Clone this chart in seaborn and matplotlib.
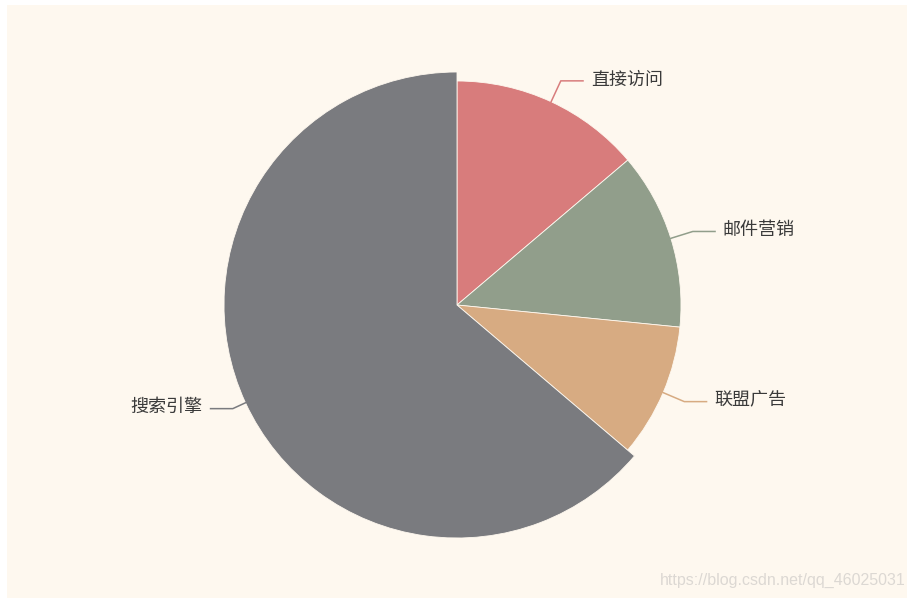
import numpy as np
import matplotlib
matplotlib.use("Agg")
import matplotlib.pyplot as plt
from matplotlib.patches import Rectangle
import seaborn as sns

categories = ["直接访问", "邮件营销", "联盟广告", "搜索引擎"]
values = [335, 310, 234, 1548]
colors = ["#d87c7c", "#919e8b", "#d7ab82", "#7a7b7f"]
watermark = "https://blog.csdn.net/qq_46025031"

sns.set_theme(style="white")
plt.rcParams['font.family'] = ['Noto Sans CJK SC', 'DejaVu Sans']

W, H = 915, 598
fig = plt.figure(figsize=(W / 100, H / 100), dpi=100, facecolor="white")
ax = fig.add_axes([0, 0, 1, 1])

cx, cy = 457, H - 305
R = 224
R_emph = 233
pal = sns.color_palette(colors)
wedges, _ = ax.pie(values, colors=pal, startangle=90, counterclock=False,
                   center=(cx, cy), radius=R, frame=True,
                   wedgeprops=dict(linewidth=0.6, edgecolor="#fef8ef"))
wedges[3].set_radius(R_emph)
ax.set_xlim(0, W)
ax.set_ylim(0, H)
ax.set_aspect("equal")
ax.axis("off")

# cream panel
ax.add_patch(Rectangle((7, 0), 900, H - 5, facecolor="#fef8ef", edgecolor="none", zorder=0))

total = sum(values)
start = 90.0
for i, (lab, v) in enumerate(zip(categories, values)):
    span = v / total * 360
    mid = np.deg2rad(start - span / 2)
    start -= span
    r = R_emph if i == 3 else R
    x0, y0 = cx + (r - 1) * np.cos(mid), cy + (r - 1) * np.sin(mid)
    x1, y1 = cx + (R + 23) * np.cos(mid), cy + (R + 23) * np.sin(mid)
    side = 1 if np.cos(mid) >= 0 else -1
    x2 = x1 + side * 23
    ax.plot([x0, x1, x2], [y0, y1, y1], color=colors[i], lw=1.1, solid_capstyle="butt", zorder=3)
    ax.text(x2 + side * 7, y1 + 1.5, lab, ha="left" if side > 0 else "right", va="center",
            fontsize=13, color="#3a3a3a", zorder=4)

ax.text(906, H - 580, watermark, ha="right", va="center", fontsize=11.5,
        color="#dcd8d3", family=["Liberation Sans", "DejaVu Sans"], zorder=4)

fig.savefig("out.png", dpi=100, facecolor="white")
